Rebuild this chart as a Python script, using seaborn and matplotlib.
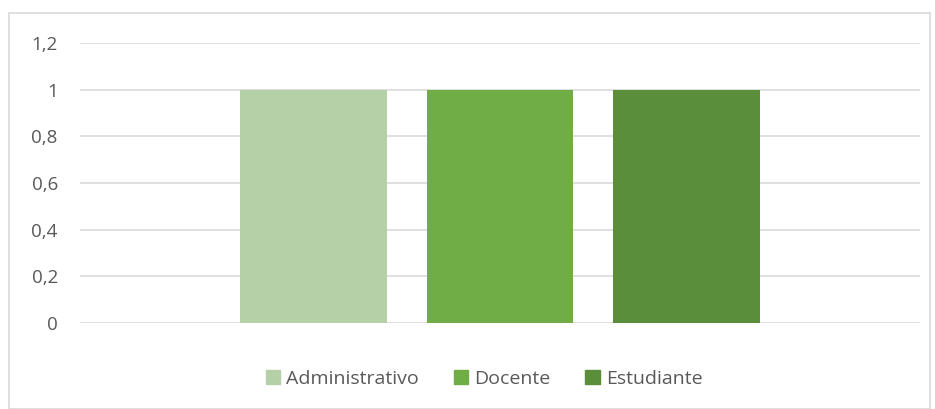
import pandas as pd
import matplotlib.pyplot as plt
import matplotlib.patches as mpatches
import seaborn as sns

# chart data
categorias = ['Administrativo', 'Docente', 'Estudiante']
valores = [1, 1, 1]
colores = ['#B5CFA7', '#70AD47', '#5B8E3B']
yticks = [0, 0.2, 0.4, 0.6, 0.8, 1, 1.2]
ytick_labels = ['0', '0,2', '0,4', '0,6', '0,8', '1', '1,2']

df = pd.DataFrame({'grupo': [''] * 3, 'tipo': categorias, 'valor': valores})

sns.set_style('white')
plt.rcParams['font.family'] = ['Open Sans', 'DejaVu Sans']

fig = plt.figure(figsize=(9.35, 4.09), dpi=100)
ax = fig.add_axes([80 / 935, 1 - 323 / 409, 840 / 935, 280 / 409])

sns.barplot(data=df, x='grupo', y='valor', hue='tipo', palette=colores,
            width=0.666, gap=0.212, ax=ax, legend=False, saturation=1,
            linewidth=0)

ax.set_xlim(-0.5, 0.5)
ax.set_ylim(0, 1.2)
ax.set_yticks(yticks)
ax.set_yticklabels(ytick_labels)
ax.yaxis.grid(True, color='#D9D9D9', linewidth=1.2)
ax.set_axisbelow(True)
for s in ax.spines.values():
    s.set_visible(False)
ax.set_xticks([])
ax.set_xlabel('')
ax.set_ylabel('')
ax.tick_params(axis='y', length=0, pad=16, labelsize=13.5, labelcolor='#595959')

handles = [mpatches.Patch(color=c, label=l) for c, l in zip(colores, categorias)]
fig.legend(handles=handles, loc='center', bbox_to_anchor=(484 / 935, 1 - 379 / 409),
           ncol=3, frameon=False, fontsize=14, labelcolor='#595959',
           handlelength=0.75, handleheight=0.75, handletextpad=0.3, columnspacing=1.8)

# outer chart frame
fig.patches.append(mpatches.Rectangle((9 / 935, 0), 921 / 935, 1 - 13 / 409,
                                      transform=fig.transFigure, fill=False,
                                      edgecolor='#D9D9D9', linewidth=1.2))

fig.savefig('out.png', dpi=100)
